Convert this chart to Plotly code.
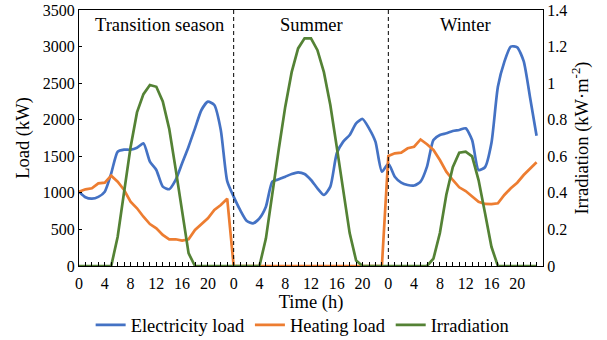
import plotly.graph_objects as go

hours = list(range(72))

electricity = [
    1016, 939, 920, 945, 1016, 1267, 1563, 1590, 1590, 1617, 1677, 1426,
    1313, 1085, 1050, 1176, 1404, 1631, 1882, 2133, 2247, 2201, 1860, 1160,
    948, 766, 620, 583, 652, 811, 1153, 1185, 1221, 1258, 1281, 1258,
    1176, 1062, 971, 1085, 1541, 1700, 1791, 1951, 2010, 1882, 1700, 1290,
    1400, 1221, 1139, 1107, 1100, 1153, 1358, 1723, 1791, 1814, 1846, 1860,
    1882, 1723, 1313, 1350, 1680, 2450, 2790, 3000, 2990, 2800, 2300, 1780,
]

heating = [
    1016, 1048, 1062, 1130, 1139, 1235, 1153, 1039, 879, 789, 674, 574,
    515, 424, 365, 365, 346, 365, 492, 574, 652, 766, 834, 920,
    0, 0, 0, 0, 0, 0, 0, 0, 0, 0, 0, 0,
    0, 0, 0, 0, 0, 0, 0, 0, 0, 0, 0, 0,
    1504, 1541, 1550, 1609, 1631, 1730, 1664, 1586, 1449, 1290, 1176, 1076,
    1025, 948, 879, 848, 845, 857, 971, 1062, 1139, 1244, 1336, 1418,
]

irradiation = [
    0, 0, 0, 0, 0, 0, 0.16, 0.41, 0.65, 0.84, 0.94, 0.99,
    0.98, 0.90, 0.75, 0.53, 0.31, 0.07, 0, 0, 0, 0, 0, 0,
    0, 0, 0, 0, 0, 0.15, 0.40, 0.64, 0.87, 1.06, 1.19, 1.245,
    1.245, 1.18, 1.06, 0.88, 0.65, 0.41, 0.18, 0.03, 0, 0, 0, 0,
    0, 0, 0, 0, 0, 0, 0, 0.04, 0.18, 0.39, 0.54, 0.62,
    0.625, 0.60, 0.47, 0.29, 0.105, 0, 0, 0, 0, 0, 0, 0,
]

seasons = ["Transition season", "Summer", "Winter"]
season_centers = [12.5, 36, 60]
season_bounds = [24, 48]

tick_vals = list(range(72))
tick_text = [str(h % 24) if h % 4 == 0 else " " for h in tick_vals]

FONT = "Liberation Serif, Times New Roman, serif"
BIG = 18.5
TICK = 16

fig = go.Figure()
fig.add_trace(go.Scatter(x=hours, y=electricity, name="Electricity load", mode="lines",
                         line=dict(color="#4472C4", width=2.7, shape="spline", smoothing=0.6)))
fig.add_trace(go.Scatter(x=hours, y=heating, name="Heating load", mode="lines",
                         line=dict(color="#ED7D31", width=2.7)))
fig.add_trace(go.Scatter(x=hours, y=irradiation, name="Irradiation", mode="lines", yaxis="y2",
                         line=dict(color="#548235", width=2.7)))

for b in season_bounds:
    fig.add_shape(type="line", x0=b, x1=b, y0=0, y1=1, xref="x", yref="paper",
                  line=dict(color="black", width=1, dash="4px,3px"))

for name, c in zip(seasons, season_centers):
    fig.add_annotation(x=c, y=0.99, xref="x", yref="paper", text=name, showarrow=False,
                       yanchor="top", font=dict(family=FONT, size=BIG, color="black"))

fig.update_layout(
    width=607, height=340,
    margin=dict(l=79, r=64, t=10, b=74, autoexpand=False),
    paper_bgcolor="white", plot_bgcolor="white",
    font=dict(family=FONT, size=TICK, color="black"),
    showlegend=True,
    legend=dict(orientation="h", x=0.482, xanchor="center", y=-0.232, yanchor="middle",
                font=dict(family=FONT, size=BIG), itemwidth=30, tracegroupgap=0),
    xaxis=dict(range=[0, 72], tickvals=tick_vals, ticktext=tick_text, tickangle=0,
               ticks="inside", ticklen=4, tickcolor="black", showline=True, linecolor="black",
               linewidth=1, mirror=True, showgrid=False, zeroline=False, ticklabelstandoff=3,
               title=dict(text="Time (h)", font=dict(family=FONT, size=BIG), standoff=0),
               tickfont=dict(family=FONT, size=TICK)),
    yaxis=dict(range=[0, 3500], dtick=500, ticks="inside", ticklen=3, tickcolor="black",
               showline=True, linecolor="black", linewidth=1, showgrid=False, zeroline=False,
               title=dict(text="Load (kW)", font=dict(family=FONT, size=BIG), standoff=8),
               tickfont=dict(family=FONT, size=TICK)),
    yaxis2=dict(range=[0, 1.4], overlaying="y", side="right", ticks="",
                showline=True, linecolor="black", linewidth=1, showgrid=False, zeroline=False,
                tickvals=[0, 0.2, 0.4, 0.6, 0.8, 1, 1.2, 1.4],
                ticktext=["0", "0.2", "0.4", "0.6", "0.8", "1", "1.2", "1.4"],
                title=dict(text="Irradiation (kW·m<sup>-2</sup>)", font=dict(family=FONT, size=BIG), standoff=8),
                tickfont=dict(family=FONT, size=TICK)),
)

fig.write_html("out.html")
